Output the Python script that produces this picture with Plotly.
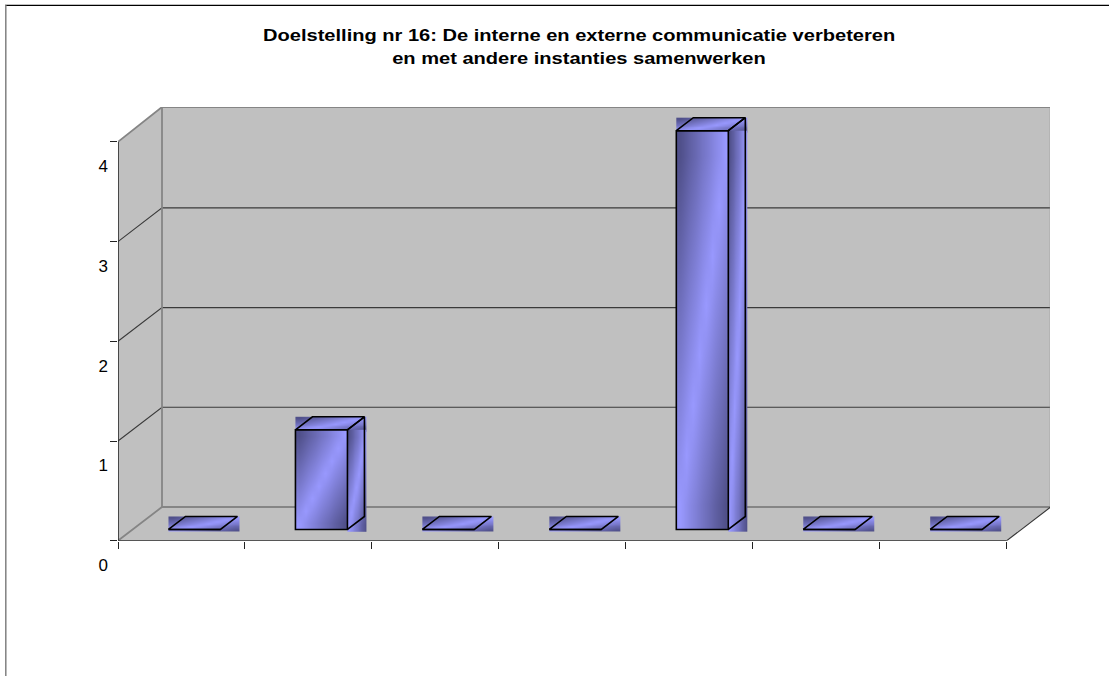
import plotly.graph_objects as go

# ---- data ----
categories = [1, 2, 3, 4, 5, 6, 7]
values = [0, 1, 0, 0, 4, 0, 0]
y_ticks = [0, 1, 2, 3, 4]
title_line_1 = "Doelstelling nr 16: De interne en externe communicatie verbeteren"
title_line_2 = "en met andere instanties samenwerken"

# ---- geometry of the picture ----
W, H = 1109, 676
LEFT, FLOOR_Y, RIGHT_BACK, TOP_BACK = 118.0, 540.7, 1050.0, 107.0
CAT_PX = (1006.7 - LEFT) / 7
VAL_PX = 99.7
BOTTOM = 590.0
DEPTH_X = 44.0 / CAT_PX      # oblique offset of the whole floor
DEPTH_Y = 33.7 / VAL_PX
BAR_W = 52.0 / CAT_PX
BAR_DX = 17.0 / CAT_PX       # oblique offset of a bar
BAR_DY = 13.0 / VAL_PX
BAR_SHIFT_X = 13.0 / CAT_PX  # bars stand a little behind the front edge
BAR_BASE = 0.1125
PATCH_X = 2.0 / CAT_PX       # gradient patches overrun the outlines a little
PATCH_Y = 2.0 / VAL_PX

DARK, LIGHT = "#50508a", "#9999ff"
WALL, EDGE = "#c0c0c0", "#858585"
GRID = "#3a3a3a"
FONT = "Liberation Sans, Arial, sans-serif"
TITLE_SIZE = 16
TITLE_STRETCH = 1.254
TICK_SIZE = 17

fig = go.Figure()


def poly(points, fill=None, line=None, width=1.5):
    path = "M " + " L ".join(f"{x},{y}" for x, y in points)
    if fill:
        path += " Z"
    fig.add_shape(type="path", path=path, layer="below", xref="x", yref="y",
                  fillcolor=fill or "rgba(0,0,0,0)",
                  line=dict(color=line or "rgba(0,0,0,0)", width=width if line else 0))


SHEEN_STEPS = 8


def gradient(x0, x1, y0, y1):
    """Corner-to-corner sheen: dark, light along the anti-diagonal, dark."""
    s = SHEEN_STEPS
    xs = [x0 + (x1 - x0) * k / s for k in range(s + 1)]
    ys = [y1 - (y1 - y0) * k / s for k in range(s + 1)]
    z = [[1 - abs((i + j) / (s - 1) - 1) for i in range(s)] for j in range(s)]
    fig.add_trace(go.Heatmap(
        x=xs, y=ys, z=z, zmin=0, zmax=1, zsmooth="best", showscale=False,
        hoverinfo="skip", colorscale=[[0, DARK], [1, LIGHT]]))


# walls and floor
n = len(categories)
v_top = (FLOOR_Y - DEPTH_Y * VAL_PX - TOP_BACK) / VAL_PX   # height of the back wall
poly([(0, 0), (DEPTH_X, DEPTH_Y), (DEPTH_X, DEPTH_Y + v_top), (0, y_ticks[-1])], fill=WALL)
poly([(DEPTH_X, DEPTH_Y), (n + DEPTH_X, DEPTH_Y), (n + DEPTH_X, DEPTH_Y + v_top), (DEPTH_X, DEPTH_Y + v_top)], fill=WALL)
poly([(0, 0), (n, 0), (n + DEPTH_X, DEPTH_Y), (DEPTH_X, DEPTH_Y)], fill=WALL)
for t in y_ticks[1:-1]:
    poly([(0, t), (DEPTH_X, t + DEPTH_Y), (n + DEPTH_X, t + DEPTH_Y)], line=GRID, width=1.1)
poly([(0, y_ticks[-1]), (DEPTH_X, DEPTH_Y + v_top), (n + DEPTH_X, DEPTH_Y + v_top),
      (n + DEPTH_X, DEPTH_Y), (DEPTH_X, DEPTH_Y), (0, 0)], line=EDGE, width=1.8)
poly([(DEPTH_X, DEPTH_Y), (DEPTH_X, DEPTH_Y + v_top)], line=EDGE, width=1.8)
poly([(n, 0), (n + DEPTH_X, DEPTH_Y)], line="#333333", width=1.1)

# gradient patches of each bar
out_x, out_y = [], []
fronts_x = []
for cat, val in zip(categories, values):
    x0 = cat - 1 + 0.5 + BAR_SHIFT_X - BAR_W / 2
    x1 = x0 + BAR_W
    xb, yb = x1 + BAR_DX, BAR_BASE + val + BAR_DY
    fronts_x.append(cat - 0.5 + BAR_SHIFT_X)
    gradient(x0, xb + PATCH_X, BAR_BASE + val - PATCH_Y, yb)
    if val > 0:
        gradient(x0, x1, BAR_BASE, BAR_BASE + val)
        gradient(x1, xb + PATCH_X, BAR_BASE - PATCH_Y, BAR_BASE + val)
        out_x += [x1, xb, xb, x1, None]
        out_y += [BAR_BASE, BAR_BASE + BAR_DY, yb, BAR_BASE + val, None]
    out_x += [x0, x0 + BAR_DX, xb, x1, x0, None]
    out_y += [BAR_BASE + val, yb, yb, BAR_BASE + val, BAR_BASE + val, None]

# front faces from the values
fig.add_trace(go.Bar(x=fronts_x, y=values, base=BAR_BASE, width=BAR_W,
                     marker=dict(color="rgba(0,0,0,0)", line=dict(color="#000000", width=1.6)),
                     hoverinfo="skip", showlegend=False))
fig.add_trace(go.Scatter(x=out_x, y=out_y, mode="lines", line=dict(color="#000000", width=1.6),
                         hoverinfo="skip", showlegend=False))
# front axis lines
fig.add_trace(go.Scatter(x=[0, 0, n], y=[y_ticks[-1], 0, 0], mode="lines", cliponaxis=False,
                         line=dict(color="#2a2a2a", width=1.6), hoverinfo="skip", showlegend=False))
# carrier of the offset value labels
fig.add_trace(go.Scatter(x=[0], y=[0], yaxis="y2", mode="markers", marker=dict(opacity=0),
                         hoverinfo="skip", showlegend=False))

plot_h = BOTTOM - TOP_BACK
plot_w = RIGHT_BACK - LEFT
LABEL_DROP = 24.5
fx = lambda px: (px - LEFT) / plot_w
fy = lambda py: (BOTTOM - py) / plot_h

fig.update_layout(
    width=W, height=H, autosize=False, showlegend=False,
    paper_bgcolor="white", plot_bgcolor="rgba(0,0,0,0)",
    margin=dict(l=LEFT, r=W - RIGHT_BACK, t=TOP_BACK, b=H - BOTTOM, pad=0),
    font=dict(family=FONT, size=TICK_SIZE, color="#000000"),
    xaxis=dict(range=[0, plot_w / CAT_PX], tickmode="array",
               tickvals=[0] + categories, ticktext=[""] * (n + 1),
               showgrid=False, zeroline=False, showline=False,
               ticks="outside", ticklen=7, tickwidth=1.1, tickcolor="#222222",
               anchor="y", fixedrange=True),
    yaxis=dict(domain=[fy(FLOOR_Y), 1], range=[0, (FLOOR_Y - TOP_BACK) / VAL_PX],
               tickmode="array", tickvals=y_ticks, ticktext=[""] * len(y_ticks),
               showgrid=False, zeroline=False, showline=False,
               ticks="outside", ticklen=7, tickwidth=1.1, tickcolor="#222222",
               fixedrange=True),
    yaxis2=dict(domain=[0, 1], anchor="x", side="left",
                range=[(FLOOR_Y + LABEL_DROP - BOTTOM) / VAL_PX, (FLOOR_Y + LABEL_DROP - TOP_BACK) / VAL_PX],
                tickmode="array", tickvals=y_ticks, ticktext=[str(t) for t in y_ticks],
                showgrid=False, zeroline=False, showline=False, ticks="",
                ticklabelstandoff=9, tickfont=dict(family=FONT, size=TICK_SIZE, color="#000000"),
                fixedrange=True),
    shapes=list(fig.layout.shapes) + [
        dict(type="line", xref="paper", yref="paper", x0=fx(5), x1=fx(W), y0=fy(5.3), y1=fy(5.3),
             line=dict(color="#000000", width=1.2)),
        dict(type="line", xref="paper", yref="paper", x0=fx(5.8), x1=fx(5.8), y0=fy(5), y1=fy(H),
             line=dict(color="#808080", width=1.5)),
    ],
    annotations=[
        dict(text=title_line_1, xref="paper", yref="paper", x=fx(579), y=fy(35.5),
             showarrow=False, xanchor="center", yanchor="middle",
             font=dict(family=FONT, size=TITLE_SIZE, weight=700, color="#000000")),
        dict(text=title_line_2, xref="paper", yref="paper", x=fx(579), y=fy(58.5),
             showarrow=False, xanchor="center", yanchor="middle",
             font=dict(family=FONT, size=TITLE_SIZE, weight=700, color="#000000")),
    ],
)

# The page has no body margin, and the title glyphs are wide as in the reference.
post = """
document.body.style.margin = '0';
var gd = document.getElementById('{plot_id}');
function widen() {
  gd.querySelectorAll('.annotation-text').forEach(function (t) {
    t.removeAttribute('textLength');
    var w = t.getComputedTextLength();
    t.setAttribute('lengthAdjust', 'spacingAndGlyphs');
    t.setAttribute('textLength', (w * %s).toFixed(1));
  });
}
widen();
gd.on('plotly_afterplot', widen);
""" % TITLE_STRETCH

fig.write_html("out.html", config=dict(displayModeBar=False), post_script=post)
